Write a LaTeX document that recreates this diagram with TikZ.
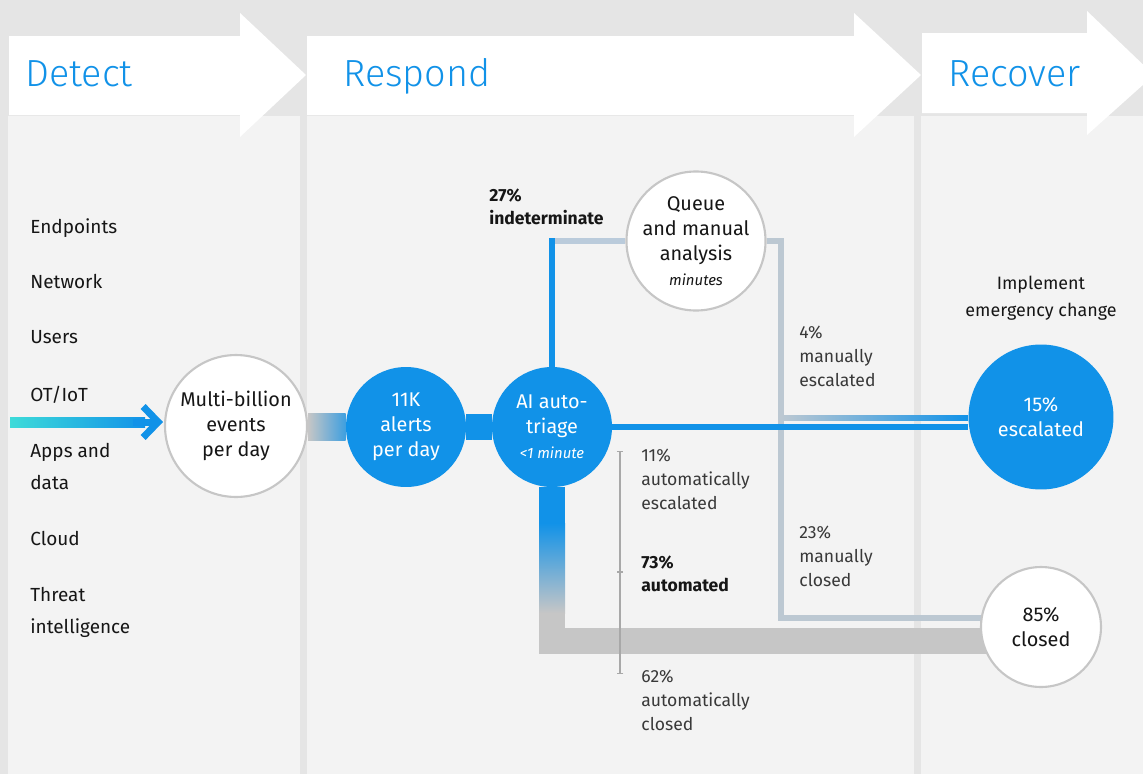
\documentclass[tikz,border=0pt]{standalone}
\usepackage{fontspec}
\setmainfont{Fira Sans}
\IfFontExistsTF{Fira Sans Light}{\newfontfamily\lightfont{Fira Sans Light}}{\newfontfamily\lightfont{Fira Sans}}
\usetikzlibrary{positioning,arrows.meta,backgrounds}

\definecolor{ibmblue}{HTML}{1192E8}
\definecolor{ibmcyan}{HTML}{3DDBD9}
\definecolor{ibmgray}{HTML}{C6C6C6}
\definecolor{slate}{HTML}{BCC8D2}
\definecolor{mist}{HTML}{BACBDB}
\definecolor{outerbg}{HTML}{E5E5E5}
\definecolor{panelbg}{HTML}{F3F3F3}
\definecolor{ink}{HTML}{161616}
\definecolor{inkgray}{HTML}{393939}
\definecolor{tickgray}{HTML}{A8A8A8}

\newcommand{\timing}[1]{{\itshape\fontsize{8.5}{10}\selectfont #1}}

\begin{document}
\begin{tikzpicture}[x=0.02cm,y=-0.02cm,
  phase/.style={anchor=base west,inner sep=0,text=ibmblue,font=\lightfont\fontsize{21.5}{24}\selectfont},
  source/.style={anchor=north west,inner sep=0,align=left,text=ink,font=\fontsize{10.8}{18.1}\selectfont},
  stage/.style={circle,minimum size=2.4cm,inner sep=0,align=center,font=\fontsize{11.3}{14.2}\selectfont},
  whitestage/.style={stage,fill=white,draw=ibmgray,line width=1.2pt,text=ink},
  bluestage/.style={stage,fill=ibmblue,text=white},
  share/.style={anchor=north west,inner sep=0,align=left,text=inkgray,font=\fontsize{10}{13.6}\selectfont},
  thickflow/.style={line width=0.52cm},
  thinflow/.style={line width=0.11cm,line join=miter}]
  \useasboundingbox (0,0) rectangle (1143,774);

  % phase headings
  \node[phase] (detect) at (25,86) {Detect};
  \node[phase] (respond) at (343,86) {Respond};
  \node[phase] (recover) at (948,86) {Recover};

  % sources
  \node[source] (endpoints) at (30,218) {Endpoints};
  \node[source] (network) at (30,274) {Network};
  \node[source] (users) at (30,330) {Users};
  \node[source] (ot) at (30,386) {OT/IoT};
  \node[source] (apps) at (30,443) {Apps and\\data};
  \node[source] (cloud) at (30,531) {Cloud};
  \node[source] (threat) at (30,587) {Threat\\intelligence};

  % stages
  \node[whitestage,minimum size=2.84cm] (events) at (236,426) {Multi-billion\\events\\per day};
  \node[bluestage] (alerts) at (406,427) {11K\\alerts\\per day};
  \node[bluestage] (triage) at (552,427) {AI auto-\\triage\\\timing{<1 minute}};
  \node[whitestage,minimum size=2.6cm] (queue) at (696,241) {Queue\\and manual\\analysis\\\timing{minutes}};
  \node[bluestage,minimum size=2.9cm] (escalated) at (1041,417) {15\%\\escalated};
  \node[whitestage] (closed) at (1041,627) {85\%\\closed};
  \node[align=center,inner sep=0,text=ink,font=\fontsize{10.2}{15.3}\selectfont,above=0.48cm of escalated] (change) {Implement\\emergency change};

  % shares
  \node[share,font=\bfseries\fontsize{10}{13.6}\selectfont,text=ink] (indet) at (489,188) {27\%\\indeterminate};
  \node[share] (manesc) at (799,326) {4\%\\manually\\escalated};
  \node[share] (autoesc) at (641,449) {11\%\\automatically\\escalated};
  \node[share,font=\bfseries\fontsize{10}{13.6}\selectfont,text=ink] (auto) at (641,555) {73\%\\automated};
  \node[share] (manclo) at (799,526) {23\%\\manually\\closed};
  \node[share] (autoclo) at (641,670) {62\%\\automatically\\closed};

  % bracket
  \coordinate (spantop) at (620,451);
  \coordinate (spanmid) at (620,572);
  \coordinate (spanbot) at (620,674);
  \draw[tickgray,line width=0.6pt,{Bar[width=0.13cm]}-{Bar[width=0.13cm]}] (spantop) -- (spanbot);
  \draw[tickgray,line width=0.6pt] ([xshift=-0.06cm]spanmid) -- ([xshift=0.06cm]spanmid);

  \begin{scope}[on background layer]
    \clip (0,0) rectangle (1143,774);
    \fill[outerbg] (0,0) rectangle (1143,774);
    \fill[panelbg] (8,116) rectangle (300,774);
    \fill[panelbg] (307,116) rectangle (914,774);
    \fill[panelbg] (921,116) rectangle (1143,774);
    \fill[white] (9,36) -- (240,36) -- (240,13) -- (306,75) -- (240,137) -- (240,115) -- (9,115) -- cycle;
    \fill[white] (307,36) -- (854,36) -- (854,13) -- (921,75) -- (854,137) -- (854,115) -- (307,115) -- cycle;
    \fill[white] (922,33) -- (1087,33) -- (1087,11) -- (1154,75) -- (1087,135) -- (1087,113) -- (922,113) -- cycle;

    % feed into detection
    \coordinate (feed) at (10,422);
    \coordinate (tip) at (163,422);
    \shade[left color=ibmcyan,right color=ibmblue] ([yshift=0.1cm]feed) rectangle ([xshift=-0.36cm,yshift=-0.1cm]tip);
    \draw[ibmblue,line width=0.14cm,-{Straight Barb[length=0.3cm,width=0.62cm]}] ([xshift=-0.6cm]tip) -- (tip);

    % indeterminate branch
    \coordinate (turn) at (781,618);
    \coordinate (split) at (781,418);
    \draw[thinflow,slate] (queue) -| (turn) -- (turn -| closed);
    \shade[left color=slate,right color=ibmblue] ([yshift=0.05cm]split) rectangle ([yshift=-0.05cm]split -| escalated.west);
    \draw[thinflow,ibmblue] (triage) |- (queue);
    \draw[thinflow,mist] ([xshift=0.06cm]triage |- queue) -- (queue);

    % main flow
    \shade[left color=ibmgray,right color=ibmblue!75!ibmgray] ([yshift=0.26cm]events.east) rectangle ([yshift=-0.26cm]alerts.west);
    \draw[thickflow,ibmblue] (alerts) -- (triage);
    \draw[thinflow,ibmblue] (triage) -- (triage -| escalated.west);

    % automated branch
    \draw[thickflow,ibmgray,line join=miter] (triage) |- ([yshift=-0.27cm]closed.center);
    \path (triage) ++(0,96) coordinate (fadetop) ++(0,90) coordinate (fadebot);
    \draw[thickflow,ibmblue] (triage) -- (fadetop);
    \shade[top color=ibmblue,bottom color=ibmgray] ([xshift=-0.26cm]fadetop) rectangle ([xshift=0.26cm]fadebot);
  \end{scope}
\end{tikzpicture}
\end{document}
